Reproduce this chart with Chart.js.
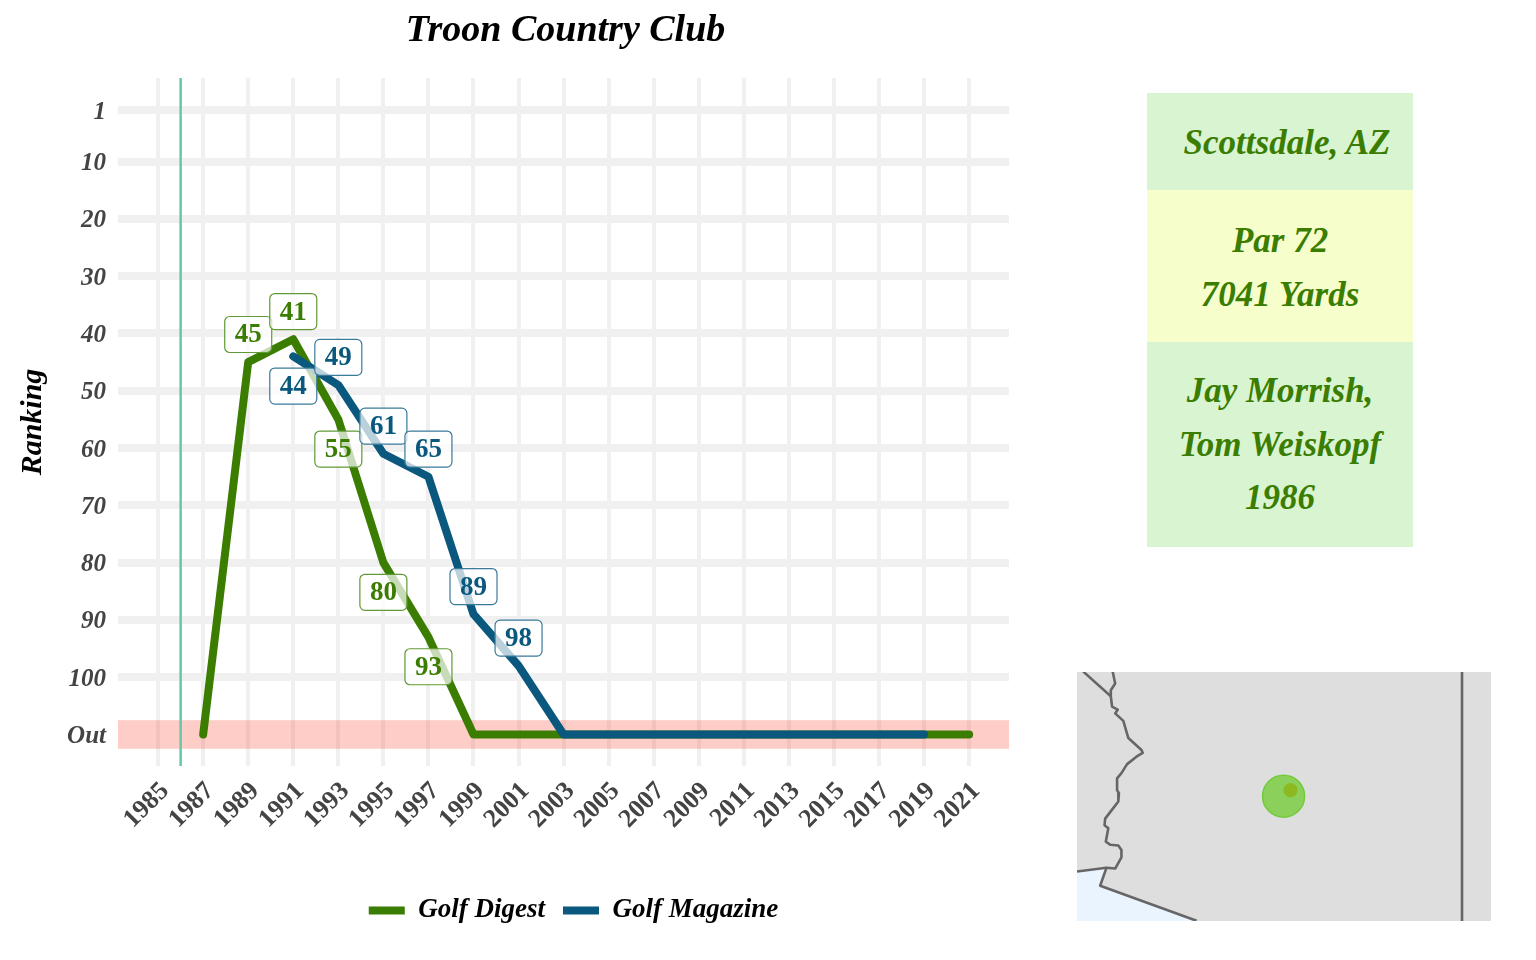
<!DOCTYPE html>
<html>
<head>
<meta charset="utf-8">
<title>Troon Country Club</title>
<script src="https://cdn.jsdelivr.net/npm/chart.js"></script>
<style>
  body { margin: 0; background: #fff; width: 1536px; height: 960px; overflow: hidden; position: relative; }
  canvas { position: absolute; }
  #myChart { left: 0; top: 0; }
  #mapChart { left: 1077px; top: 672px; background: #dedede; }
  .panel { position: absolute; left: 1147px; width: 266px; text-align: center; color: #3a7d00;
    font: italic bold 35px/53.5px "Liberation Serif", serif; box-sizing: border-box; }
</style>
</head>
<body>
<canvas id="myChart" width="1009" height="960"></canvas>
<canvas id="mapChart" width="414" height="249"></canvas>
<div class="panel" id="place" style="top:93px;height:97px;background:#d9f4d0;padding-top:23px;padding-left:14px"></div>
<div class="panel" id="course" style="top:190px;height:152px;background:#f6ffcb;padding-top:24px"></div>
<div class="panel" id="design" style="top:342px;height:205px;background:#d9f4d0;padding-top:22px"></div>
<script>
// rankings, 110 means out of the top 100
var digestYears = [1987, 1989, 1991, 1993, 1995, 1997, 1999, 2001, 2003, 2005, 2007, 2009, 2011, 2013, 2015, 2017, 2019, 2021];
var digestRanks = [110, 45, 41, 55, 80, 93, 110, 110, 110, 110, 110, 110, 110, 110, 110, 110, 110, 110];
var magazineYears = [1991, 1993, 1995, 1997, 1999, 2001, 2003, 2005, 2007, 2009, 2011, 2013, 2015, 2017, 2019];
var magazineRanks = [44, 49, 61, 65, 89, 98, 110, 110, 110, 110, 110, 110, 110, 110, 110];

// rank the number box sits at, per labelled year
var digestLabelYears = [1989, 1991, 1993, 1995, 1997];
var digestLabelRanks = [40, 36, 60, 85, 98];
var magazineLabelYears = [1991, 1993, 1995, 1997, 1999, 2001];
var magazineLabelRanks = [49, 44, 56, 60, 84, 93];

var yearTicks = [1985, 1987, 1989, 1991, 1993, 1995, 1997, 1999, 2001, 2003, 2005, 2007, 2009, 2011, 2013, 2015, 2017, 2019, 2021];
var rankTicks = [1, 10, 20, 30, 40, 50, 60, 70, 80, 90, 100, 110];
var openedYear = 1986;

var placeLines = ['Scottsdale, AZ'];
var courseLines = ['Par 72', '7041 Yards'];
var designLines = ['Jay Morrish,', 'Tom Weiskopf', '1986'];

// map outlines as lon / lat
var riverLon = [-114.61, -114.57, -114.64, -114.64, -114.62, -114.53, -114.57, -114.44, -114.36, -114.15, -114.13, -114.23, -114.38, -114.47, -114.54, -114.54, -114.51, -114.52, -114.61, -114.73, -114.74, -114.68, -114.72, -114.65, -114.52, -114.47, -114.47, -114.57, -114.71, -114.81, -113.27];
var riverLat = [35.35, 35.19, 35.10, 35.02, 34.88, 34.84, 34.79, 34.69, 34.46, 34.30, 34.26, 34.21, 34.11, 33.99, 33.92, 33.76, 33.72, 33.61, 33.51, 33.38, 33.29, 33.25, 33.07, 33.03, 33.02, 32.96, 32.86, 32.71, 32.72, 32.48, 32.01];
var nevadaLon = [-115.08, -114.64];
var nevadaLat = [35.35, 35.02];
var mexicoLon = [-115.18, -114.71, -114.81, -113.27, -115.18];
var mexicoLat = [32.67, 32.72, 32.48, 32.00, 32.00];
var mexicoLineLon = [-115.18, -114.71];
var mexicoLineLat = [32.67, 32.72];
var newMexicoLon = [-109.03, -109.03];
var newMexicoLat = [35.35, 32.00];
var areaLon = [-111.88];
var areaLat = [33.68];
var courseLon = [-111.77];
var courseLat = [33.76];

var GREEN = '#3a7d00';
var BLUE = '#0a587d';
var FONT = '"Liberation Serif", serif';

function zip(xs, ys) {
  return xs.map(function (x, i) { return { x: x, y: ys[i] }; });
}

['place', 'course', 'design'].forEach(function (id, i) {
  var lines = [placeLines, courseLines, designLines][i];
  document.getElementById(id).innerHTML = lines.join('<br>');
});

function drawLabels(chart, years, ranks, labelYears, labelRanks, color, fade) {
  var ctx = chart.ctx, xs = chart.scales.x, ys = chart.scales.y;
  labelYears.forEach(function (year, i) {
    var value = ranks[years.indexOf(year)];
    var x = xs.getPixelForValue(year), y = ys.getPixelForValue(labelRanks[i]) + 1;
    ctx.save();
    ctx.beginPath();
    ctx.roundRect(x - 23.5, y - 18, 47, 36, 5);
    ctx.fillStyle = 'rgba(255,255,255,0.72)';
    ctx.fill();
    ctx.strokeStyle = fade;
    ctx.lineWidth = 1.2;
    ctx.stroke();
    ctx.fillStyle = color;
    ctx.font = 'bold 27px ' + FONT;
    ctx.textAlign = 'center';
    ctx.textBaseline = 'middle';
    ctx.fillText(value, x, y + 1);
    ctx.restore();
  });
}

var marksPlugin = {
  id: 'marks',
  afterLayout: function (chart) {
    // title and legend are not centred on the canvas in the original
    chart.titleBlock.left += 61;
    chart.titleBlock.right += 61;
    chart.legend.left += 69;
    chart.legend.right += 69;
  },
  beforeDatasetsDraw: function (chart) {
    var ctx = chart.ctx, a = chart.chartArea;
    var top = chart.scales.y.getPixelForValue(107.5), bottom = chart.scales.y.getPixelForValue(112.5);
    var x = chart.scales.x.getPixelForValue(openedYear);
    ctx.save();
    ctx.fillStyle = 'rgba(250,60,40,0.26)';
    ctx.fillRect(a.left, top, a.right - a.left, bottom - top);
    ctx.strokeStyle = '#66c8a6';
    ctx.lineWidth = 2.5;
    ctx.beginPath();
    ctx.moveTo(x, a.top);
    ctx.lineTo(x, a.bottom);
    ctx.stroke();
    ctx.restore();
  },
  afterDatasetsDraw: function (chart) {
    drawLabels(chart, digestYears, digestRanks, digestLabelYears, digestLabelRanks, GREEN, '#5f9a35');
    drawLabels(chart, magazineYears, magazineRanks, magazineLabelYears, magazineLabelRanks, BLUE, '#3a7a99');
  }
};

var ctx = document.getElementById('myChart');
var myChart = new Chart(ctx, {
  type: 'line',
  plugins: [marksPlugin],
  data: {
    datasets: [{
      label: 'Golf Digest',
      data: zip(digestYears, digestRanks),
      borderColor: GREEN,
      backgroundColor: GREEN,
      borderWidth: 8,
      borderCapStyle: 'round',
      borderJoinStyle: 'round',
      tension: 0,
      pointRadius: 0,
      order: 2
    }, {
      label: 'Golf Magazine',
      data: zip(magazineYears, magazineRanks),
      borderColor: BLUE,
      backgroundColor: BLUE,
      borderWidth: 8,
      borderCapStyle: 'round',
      borderJoinStyle: 'round',
      tension: 0,
      pointRadius: 0,
      order: 1
    }]
  },
  options: {
    responsive: false,
    animation: false,
    layout: { padding: { bottom: 26 } },
    plugins: {
      tooltip: { enabled: false },
      title: {
        display: true,
        text: 'Troon Country Club',
        color: '#000',
        font: { family: FONT, size: 38, style: 'italic', weight: 'bold', lineHeight: 1 },
        padding: { top: 12, bottom: 28 }
      },
      legend: {
        position: 'bottom',
        labels: {
          usePointStyle: true,
          pointStyle: 'line',
          pointStyleWidth: 36,
          color: '#000',
          padding: 18,
          font: { family: FONT, size: 27, style: 'italic', weight: 'bold' },
          sort: function (a, b) { return a.datasetIndex - b.datasetIndex; }
        }
      }
    },
    scales: {
      x: {
        type: 'linear',
        min: 1983.22,
        max: 2022.77,
        afterBuildTicks: function (scale) {
          scale.ticks = yearTicks.map(function (v) { return { value: v }; });
        },
        afterFit: function (scale) { scale.height = 960 - 766 - 26 - scale.chart.legend.height; },
        grid: { color: '#f0f0f0', lineWidth: 4, drawTicks: false },
        border: { display: false },
        ticks: {
          autoSkip: false,
          minRotation: 45,
          maxRotation: 45,
          labelOffset: 7,
          padding: 10,
          color: '#444',
          font: { family: FONT, size: 26, weight: 'bold' },
          callback: function (v) { return String(v); }
        }
      },
      y: {
        reverse: true,
        min: -4.6,
        max: 115.5,
        afterBuildTicks: function (scale) {
          scale.ticks = rankTicks.map(function (v) { return { value: v }; });
        },
        afterFit: function (scale) { scale.width = 118; },
        grid: {
          lineWidth: 8,
          drawTicks: false,
          color: function (c) { return c.tick && c.tick.value === 110 ? 'rgba(0,0,0,0)' : '#f0f0f0'; }
        },
        border: { display: false },
        title: {
          display: true,
          text: 'Ranking',
          color: '#000',
          padding: { top: 15, bottom: 0 },
          font: { family: FONT, size: 30, style: 'italic', weight: 'bold' }
        },
        ticks: {
          autoSkip: false,
          padding: 12,
          labelOffset: 2,
          color: '#444',
          font: { family: FONT, size: 25, style: 'italic', weight: 'bold' },
          callback: function (v) { return v === 110 ? 'Out' : String(v); }
        }
      }
    }
  }
});

function outline(xs, ys) {
  return { type: 'line', data: zip(xs, ys), borderColor: '#666', borderWidth: 2.6, pointRadius: 0, tension: 0, borderJoinStyle: 'round' };
}

var mapChart = new Chart(document.getElementById('mapChart'), {
  type: 'line',
  data: {
    datasets: [
      { data: zip(courseLon, courseLat), showLine: false, pointRadius: 7, pointBackgroundColor: '#8cb820', pointBorderColor: '#8cc030', pointBorderWidth: 0.5 },
      { data: zip(areaLon, areaLat), showLine: false, pointRadius: 21, pointBackgroundColor: '#8cd05c', pointBorderColor: '#74cb3c', pointBorderWidth: 1.5 },
      outline(riverLon, riverLat),
      outline(nevadaLon, nevadaLat),
      outline(mexicoLineLon, mexicoLineLat),
      outline(newMexicoLon, newMexicoLat),
      { data: zip(mexicoLon, mexicoLat), borderWidth: 0, pointRadius: 0, tension: 0, fill: 'shape', backgroundColor: '#e9f4ff' }
    ]
  },
  options: {
    responsive: false,
    animation: false,
    layout: { padding: 0, autoPadding: false },
    plugins: { legend: { display: false }, tooltip: { enabled: false }, title: { display: false } },
    scales: {
      x: { type: 'linear', display: false, min: -115.18, max: -108.567 },
      y: { type: 'linear', display: false, min: 32.007, max: 35.345 }
    }
  }
});
</script>
</body>
</html>
